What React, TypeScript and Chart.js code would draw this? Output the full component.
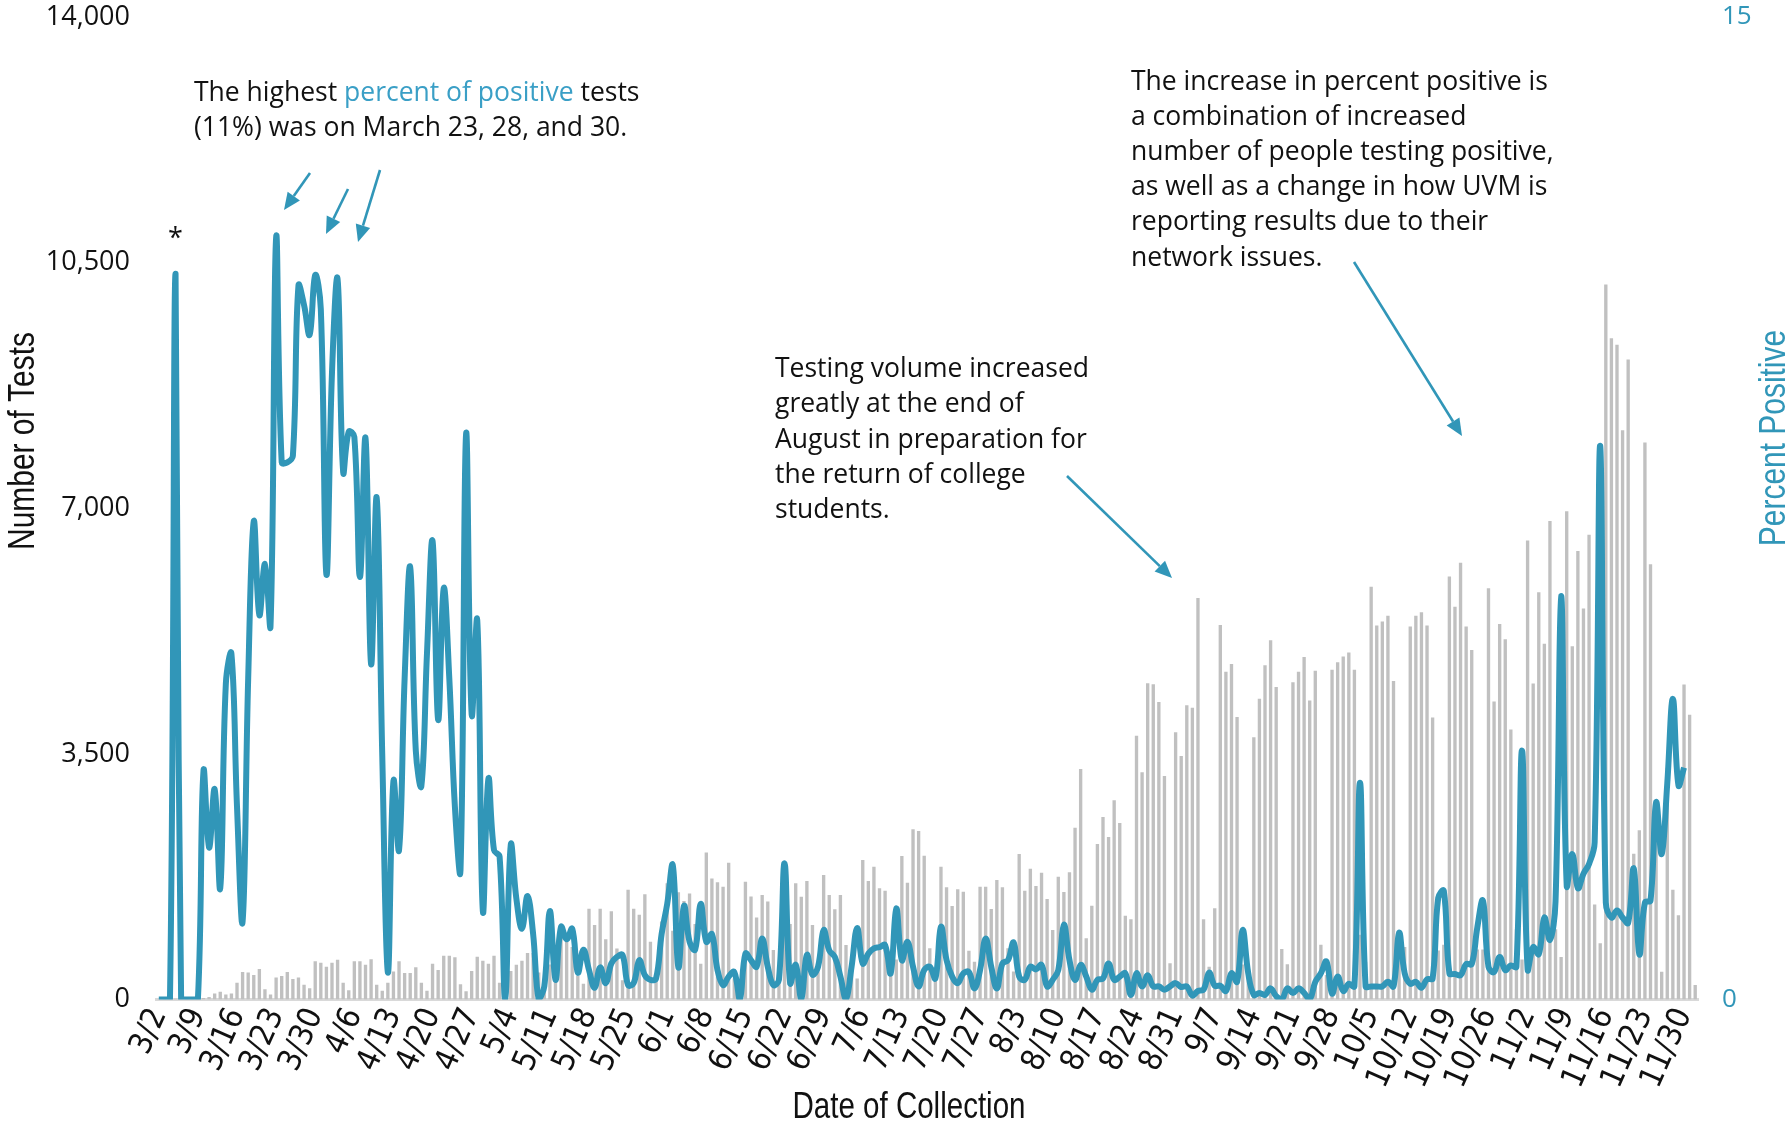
import React, { useEffect, useRef } from 'react';
import { Chart, registerables } from 'chart.js';

Chart.register(...registerables);

// ---------- categories ----------
const START = Date.UTC(2020, 2, 2);
const DAY_COUNT = 276;
const categories: string[] = Array.from({ length: DAY_COUNT }, (_, i) => {
  const d = new Date(START + i * 86400000);
  return `${d.getUTCMonth() + 1}/${d.getUTCDate()}`;
});

const tickLabels = [
  '3/2', '3/9', '3/16', '3/23', '3/30', '4/6', '4/13', '4/20', '4/27', '5/4',
  '5/11', '5/18', '5/25', '6/1', '6/8', '6/15', '6/22', '6/29', '7/6', '7/13',
  '7/20', '7/27', '8/3', '8/10', '8/17', '8/24', '8/31', '9/7', '9/14', '9/21',
  '9/28', '10/5', '10/12', '10/19', '10/26', '11/2', '11/9', '11/16', '11/23', '11/30',
];

// ---------- number of tests (bars) ----------
const testsMar = [2, 3, 5, 9, 4, 2, 3, 10, 20, 36, 87, 109, 73, 87, 240, 392, 385, 349, 436, 145, 73, 313, 334, 392, 291, 313, 211, 160, 545, 523];
const testsApr = [465, 523, 567, 240, 131, 545, 545, 494, 574, 211, 124, 240, 400, 545, 378, 378, 458, 240, 124, 509, 422, 625, 625, 603, 218, 116, 407, 610, 553, 509];
const testsMay = [625, 240, 150, 407, 494, 553, 662, 662, 385, 276, 500, 436, 967, 945, 749, 334, 225, 1294, 1062, 1294, 858, 1258, 727, 276, 1563, 1294, 1207, 1498, 822, 276, 1112];
const testsJun = [1658, 981, 1527, 1403, 1512, 1076, 509, 2094, 1723, 1672, 1607, 1948, 300, 200, 1679, 1466, 1167, 1489, 1395, 706, 300, 1750, 1076, 1656, 1465, 1688, 1062, 400, 1774, 1489];
const testsJul = [1285, 1489, 777, 444, 300, 1988, 1688, 1893, 1584, 1551, 350, 570, 2045, 1665, 2425, 2401, 2050, 729, 400, 1893, 1599, 1332, 1570, 1537, 696, 539, 1608, 1608, 1290, 1703, 1599];
const testsAug = [729, 400, 2073, 1551, 1864, 1617, 1807, 1432, 990, 1750, 1532, 1812, 2448, 3285, 872, 1337, 2216, 2601, 2316, 2838, 2515, 1194, 1143, 3760, 3237, 4506, 4492, 4239, 3185, 515, 3807];
const testsSep = [3470, 4192, 4159, 5720, 1143, 468, 1299, 5337, 4672, 4781, 4026, 500, 400, 3736, 4287, 4762, 5118, 4453, 720, 501, 4520, 4672, 4880, 4260, 4685, 781, 350, 4699, 4804, 4888];
const testsOct = [4943, 4699, 922, 537, 5881, 5328, 5385, 5469, 4538, 850, 747, 5314, 5469, 5518, 5328, 4020, 700, 781, 6028, 5595, 6224, 5314, 4979, 711, 711, 5860, 4245, 5349, 5133, 3846, 1000];
const testsNov = [571, 6539, 4503, 5804, 5070, 6819, 1000, 607, 6958, 5035, 6392, 5573, 6623, 1355, 803, 10190, 9421, 9331, 8113, 9120, 2076, 2411, 7938, 6203, 2400, 396, 3300, 1565, 1201, 4489];
const testsDec = [4056, 208];

// ---------- percent positive (line) ----------
const pctMar = [0, 0, 0, 11.08, 0, 0, 0, 0, 3.49, 2.32, 3.21, 1.7, 4.82, 5.28, 2.94, 1.19, 4.9, 7.3, 5.87, 6.65, 5.71, 11.63, 8.2, 8.2, 8.3, 10.9, 10.6, 10.15, 11.06, 10.54];
const pctApr = [6.49, 9.57, 11.0, 8.05, 8.67, 8.59, 6.45, 8.57, 5.12, 7.66, 3.72, 0.41, 3.34, 2.28, 4.9, 6.6, 3.8, 3.26, 5.28, 7.0, 4.27, 6.28, 4.9, 2.94, 1.97, 8.63, 4.35, 5.79, 1.35, 3.37];
const pctMay = [2.28, 2.18, 0, 2.36, 1.54, 1.08, 1.58, 1.0, 0, 0.2, 1.35, 0.3, 1.11, 0.92, 1.08, 0.41, 0.76, 0.45, 0.18, 0.49, 0.25, 0.55, 0.65, 0.68, 0.22, 0.25, 0.6, 0.37, 0.3, 0.32, 1.0];
const pctJun = [1.46, 2.05, 0.49, 1.43, 0.88, 0.76, 1.46, 0.88, 1.0, 0.45, 0.22, 0.35, 0.42, 0, 0.7, 0.6, 0.5, 0.93, 0.5, 0.22, 0.3, 2.08, 0.25, 0.53, 0, 0.68, 0.38, 0.5, 1.06, 0.75];
const pctJul = [0.65, 0.35, 0, 0.5, 1.09, 0.55, 0.7, 0.78, 0.8, 0.83, 0.4, 1.39, 0.6, 0.88, 0.5, 0.2, 0.45, 0.5, 0.32, 1.11, 0.6, 0.35, 0.25, 0.4, 0.42, 0.17, 0.45, 0.93, 0.5, 0.17, 0.55];
const pctAug = [0.6, 0.87, 0.35, 0.3, 0.5, 0.46, 0.53, 0.2, 0.3, 0.45, 1.14, 0.6, 0.3, 0.53, 0.35, 0.15, 0.3, 0.32, 0.55, 0.3, 0.35, 0.4, 0.07, 0.4, 0.2, 0.37, 0.2, 0.2, 0.15, 0.2, 0.25];
const pctSep = [0.19, 0.2, 0.06, 0.13, 0.15, 0.41, 0.21, 0.21, 0.13, 0.4, 0.27, 1.06, 0.4, 0.07, 0.1, 0.07, 0.17, 0.05, 0, 0.17, 0.1, 0.17, 0.1, 0, 0.27, 0.4, 0.58, 0.09, 0.35, 0.13];
const pctOct = [0.24, 0.2, 3.31, 0.2, 0.2, 0.2, 0.2, 0.27, 0.2, 1.02, 0.4, 0.24, 0.27, 0.18, 0.31, 0.32, 1.55, 1.66, 0.4, 0.39, 0.37, 0.54, 0.54, 1.1, 1.51, 0.5, 0.42, 0.65, 0.45, 0.52, 0.5];
const pctNov = [3.8, 0.46, 0.8, 0.69, 1.25, 0.91, 1.5, 6.16, 1.74, 2.22, 1.7, 1.92, 2.07, 2.4, 8.45, 1.48, 1.25, 1.36, 1.25, 1.17, 2.0, 0.69, 1.48, 1.51, 3.01, 2.22, 3.3, 4.59, 3.27, 3.54];
const pctDec: (number | null)[] = [null, null];

const tests = [...testsMar, ...testsApr, ...testsMay, ...testsJun, ...testsJul, ...testsAug, ...testsSep, ...testsOct, ...testsNov, ...testsDec];
const pct: (number | null)[] = [...pctMar, ...pctApr, ...pctMay, ...pctJun, ...pctJul, ...pctAug, ...pctSep, ...pctOct, ...pctNov, ...pctDec];

// ---------- annotation text ----------
const noteTopLine1 = ['The highest ', 'percent of positive', ' tests'];
const noteTopLine2 = '(11%) was on March 23, 28, and 30.';
const noteMid = ['Testing volume increased', 'greatly at the end of', 'August in preparation for', 'the return of college', 'students.'];
const noteRight = [
  'The increase in percent positive is',
  'a combination of increased',
  'number of people testing positive,',
  'as well as a change in how UVM is',
  'reporting results due to their',
  'network issues.',
];

const TEAL = '#3196b8';
const TEAL_TEXT = '#3a9fc6';
const INK = '#111111';
const BAR = '#c0c0c0';
const TEXT_FONT = "'Open Sans', 'Liberation Sans', sans-serif";
const COND_FONT = "'Liberation Sans', sans-serif";

function drawArrow(ctx: CanvasRenderingContext2D, x1: number, y1: number, x2: number, y2: number) {
  const ang = Math.atan2(y2 - y1, x2 - x1);
  const L = 17;
  const W = 7.5;
  const bx = x2 - L * Math.cos(ang);
  const by = y2 - L * Math.sin(ang);
  ctx.beginPath();
  ctx.moveTo(x1, y1);
  ctx.lineTo(bx, by);
  ctx.stroke();
  ctx.beginPath();
  ctx.moveTo(x2, y2);
  ctx.lineTo(bx + W * Math.sin(ang), by - W * Math.cos(ang));
  ctx.lineTo(bx - W * Math.sin(ang), by + W * Math.cos(ang));
  ctx.closePath();
  ctx.fill();
}

function drawCond(ctx: CanvasRenderingContext2D, text: string, cx: number, cy: number, rot: number, size: number, color: string) {
  ctx.save();
  ctx.translate(cx, cy);
  ctx.rotate(rot);
  ctx.scale(0.82, 1);
  ctx.font = `${size}px ${COND_FONT}`;
  ctx.fillStyle = color;
  ctx.textAlign = 'center';
  ctx.textBaseline = 'middle';
  ctx.fillText(text, 0, 0);
  ctx.restore();
}

const annotationPlugin = {
  id: 'annotations',
  afterDraw(chart: any) {
    const ctx: CanvasRenderingContext2D = chart.ctx;
    const xs = chart.scales.x;
    const yp = chart.scales.y1;
    ctx.save();
    ctx.textBaseline = 'middle';
    ctx.textAlign = 'left';
    ctx.font = `26.5px ${TEXT_FONT}`;

    // top-left note
    let x = 194;
    const colors = [INK, TEAL_TEXT, INK];
    noteTopLine1.forEach((t, i) => {
      ctx.fillStyle = colors[i];
      ctx.fillText(t, x, 93);
      x += ctx.measureText(t).width;
    });
    ctx.fillStyle = INK;
    ctx.fillText(noteTopLine2, 194, 128.5);

    noteMid.forEach((t, i) => ctx.fillText(t, 775, 369.5 + i * 35.3));
    noteRight.forEach((t, i) => ctx.fillText(t, 1131, 82.5 + i * 35.1));

    // asterisk over the 3/5 point
    ctx.textAlign = 'center';
    ctx.font = `27px ${TEXT_FONT}`;
    ctx.fillText('*', xs.getPixelForValue(3), yp.getPixelForValue(pct[3] as number) - 34);

    // arrows
    ctx.strokeStyle = TEAL;
    ctx.fillStyle = TEAL;
    ctx.lineWidth = 2.6;
    drawArrow(ctx, 310, 173, 284, 210);
    drawArrow(ctx, 348, 189, 326, 234);
    drawArrow(ctx, 380, 170, 358, 242);
    drawArrow(ctx, 1067, 476, 1172, 578);
    drawArrow(ctx, 1354, 262, 1462, 436);

    // axis titles
    drawCond(ctx, 'Number of Tests', 24, 441, -Math.PI / 2, 36.5, INK);
    drawCond(ctx, 'Percent Positive', 1775, 438, -Math.PI / 2, 36.5, TEAL);
    drawCond(ctx, 'Date of Collection', 909, 1108, 0, 36, INK);
    ctx.restore();
  },
};

const noVerticalPadding = (s: any) => {
  s.paddingTop = 0;
  s.paddingBottom = 0;
};

export default function App() {
  const ref = useRef<HTMLCanvasElement>(null);
  useEffect(() => {
    if (!ref.current) return;
    const chart = new Chart(ref.current, {
      type: 'bar',
      data: {
        labels: categories,
        datasets: [
          {
            type: 'line',
            label: 'Percent Positive',
            data: pct,
            yAxisID: 'y1',
            borderColor: TEAL,
            borderWidth: 6,
            pointRadius: 0,
            tension: 0.4,
            fill: false,
            order: 1,
          } as any,
          {
            type: 'bar',
            label: 'Number of Tests',
            data: tests,
            yAxisID: 'y',
            backgroundColor: BAR,
            borderWidth: 0,
            barPercentage: 0.6,
            categoryPercentage: 1,
            order: 2,
          },
        ],
      },
      options: {
        responsive: false,
        devicePixelRatio: 1,
        animation: false,
        events: [],
        layout: { padding: { top: 17, left: 0, right: 0, bottom: 0 } },
        plugins: { legend: { display: false }, tooltip: { enabled: false }, title: { display: false } },
        scales: {
          x: {
            type: 'category',
            offset: true,
            grid: { display: false, drawTicks: false },
            border: { display: true, color: '#d9d9d9', width: 3 },
            ticks: {
              autoSkip: false,
              maxRotation: 66,
              minRotation: 66,
              padding: 3,
              color: INK,
              font: { family: "'Liberation Sans Narrow', 'DejaVu Sans Condensed', 'Liberation Sans', sans-serif", size: 32 },
              callback: (_v: any, i: number) => (i % 7 === 0 ? tickLabels[i / 7] : null),
            },
            afterFit: (s: any) => {
              s.height = 123.5;
            },
          },
          y: {
            position: 'left',
            min: 0,
            max: 14000,
            grid: { display: false, drawTicks: false },
            border: { display: false },
            ticks: {
              stepSize: 3500,
              padding: 26,
              color: INK,
              font: { family: TEXT_FONT, size: 27 },
              callback: (v: any) => Number(v).toLocaleString('en-US'),
            },
            afterFit: (s: any) => {
              s.width = 156;
              noVerticalPadding(s);
            },
          },
          y1: {
            position: 'right',
            min: 0,
            max: 15,
            grid: { display: false, drawTicks: false },
            border: { display: false },
            afterBuildTicks: (s: any) => {
              s.ticks = [{ value: 0 }, { value: 15 }];
            },
            ticks: {
              padding: 24,
              color: TEAL,
              font: { family: TEXT_FONT, size: 26 },
            },
            afterFit: (s: any) => {
              s.width = 89;
              noVerticalPadding(s);
            },
          },
        },
      },
      plugins: [annotationPlugin],
    });
    return () => chart.destroy();
  }, []);

  return (
    <div style={{ position: 'absolute', left: 0, top: 0, width: 1787, height: 1123, background: '#ffffff' }}>
      <canvas ref={ref} width={1787} height={1123} style={{ display: 'block', width: 1787, height: 1123 }} />
    </div>
  );
}
